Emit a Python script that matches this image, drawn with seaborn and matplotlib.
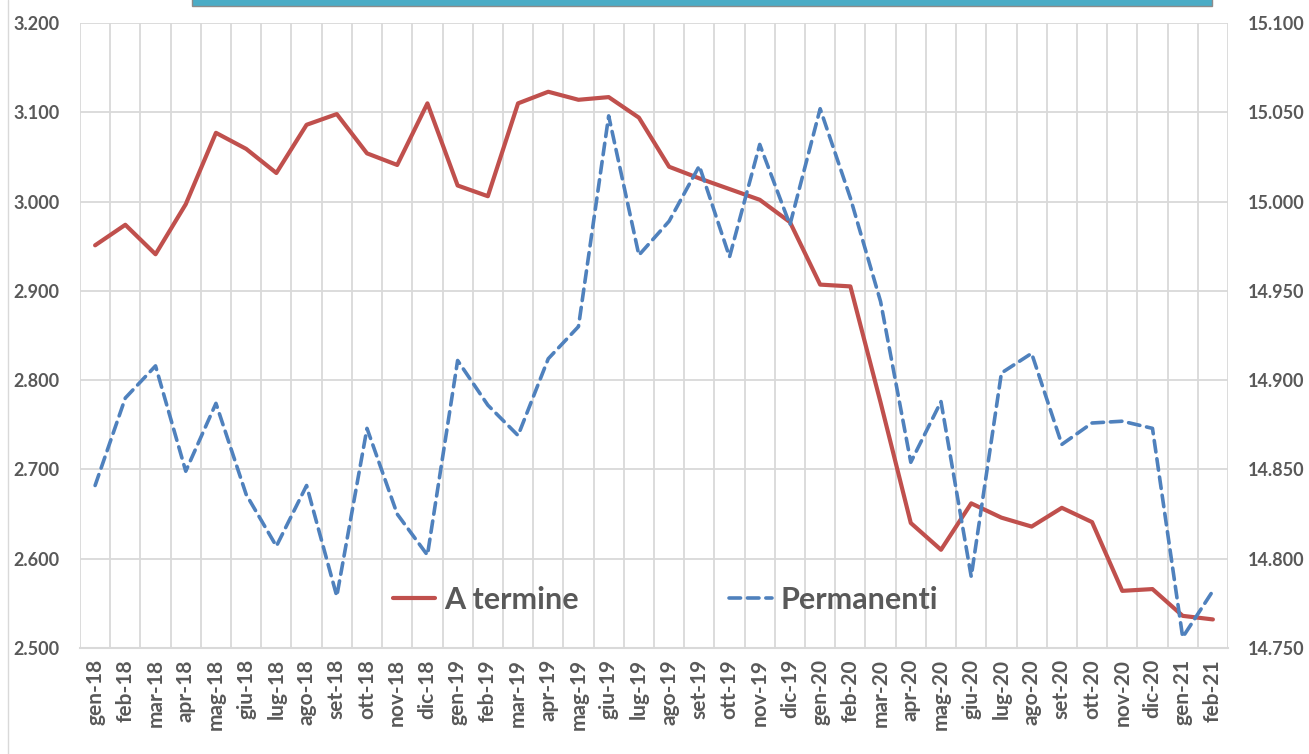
import pandas as pd
import matplotlib.pyplot as plt
import seaborn as sns
from matplotlib.ticker import FuncFormatter, FixedLocator
from matplotlib.lines import Line2D
from matplotlib.patches import Rectangle

# month labels
mesi = ['gen-18', 'feb-18', 'mar-18', 'apr-18', 'mag-18', 'giu-18', 'lug-18', 'ago-18', 'set-18', 'ott-18', 'nov-18', 'dic-18',
        'gen-19', 'feb-19', 'mar-19', 'apr-19', 'mag-19', 'giu-19', 'lug-19', 'ago-19', 'set-19', 'ott-19', 'nov-19', 'dic-19',
        'gen-20', 'feb-20', 'mar-20', 'apr-20', 'mag-20', 'giu-20', 'lug-20', 'ago-20', 'set-20', 'ott-20', 'nov-20', 'dic-20',
        'gen-21', 'feb-21']

# A termine (left axis, thousands)
a_termine = [2951, 2974, 2941, 2997, 3077, 3059, 3032, 3086, 3098, 3054, 3041, 3110,
             3018, 3006, 3110, 3123, 3114, 3117, 3094, 3039, 3026, 3014, 3002, 2977,
             2907, 2905, 2775, 2640, 2610, 2662, 2646, 2636, 2657, 2641, 2564, 2566,
             2536, 2532]

# Permanenti (right axis, thousands)
permanenti = [14841, 14890, 14908, 14849, 14887, 14836, 14807, 14841, 14779, 14873, 14825, 14802,
              14911, 14886, 14869, 14912, 14930, 15048, 14970, 14989, 15020, 14969, 15032, 14987,
              15052, 15002, 14944, 14854, 14888, 14790, 14904, 14915, 14864, 14876, 14877, 14873,
              14756, 14782]

df = pd.DataFrame({'pos': range(len(mesi)), 'mese': mesi,
                   'A termine': a_termine, 'Permanenti': permanenti})

sns.set_style('white')
plt.rcParams['font.family'] = ['Lato', 'DejaVu Sans']

RED = '#C0504D'
BLUE = '#4F81BD'
TXT = '#595959'
GRID = '#D9D9D9'

fig = plt.figure(figsize=(13.09, 7.54), dpi=100)
ax = fig.add_axes([80 / 1309, 1 - 648 / 754, 1148 / 1309, 625 / 754])
ax2 = ax.twinx()

sns.lineplot(data=df, x='pos', y='A termine', ax=ax, color=RED, linewidth=3.0, label='A termine', legend=False)
sns.lineplot(data=df, x='pos', y='Permanenti', ax=ax2, color=BLUE, linewidth=2.6, label='Permanenti', legend=False)
ax2.lines[0].set_dashes((3.2, 1.9))
ax2.lines[0].set_dash_capstyle('round')

ax.set_xlim(-0.5, len(mesi) - 0.5)
ax.set_ylim(2500, 3200)
ax2.set_ylim(14750, 15100)
ax.set_yticks(range(2500, 3201, 100))
ax2.set_yticks(range(14750, 15101, 50))

fmt = FuncFormatter(lambda v, p: f'{int(v):,}'.replace(',', '.'))
ax.yaxis.set_major_formatter(fmt)
ax2.yaxis.set_major_formatter(fmt)

ax.set_xticks(range(len(mesi)))
ax.set_xticklabels(mesi, rotation=90, fontsize=15, fontweight='bold', color=TXT)
ax.xaxis.set_minor_locator(FixedLocator([i - 0.5 for i in range(len(mesi) + 1)]))
ax.tick_params(axis='x', which='both', length=0, pad=8)
ax.tick_params(axis='y', length=0, pad=14.5, labelsize=13, labelcolor=TXT)
ax2.tick_params(axis='y', length=0, pad=14.5, labelsize=13, labelcolor=TXT)
for lab in ax.get_yticklabels() + ax2.get_yticklabels():
    lab.set_fontweight('bold')

ax.grid(which='major', axis='y', color=GRID, linewidth=1.3)
ax.grid(which='minor', axis='x', color=GRID, linewidth=1.3)
ax.set_axisbelow(True)
ax.set_xlabel('')
ax.set_ylabel('')
ax2.set_ylabel('')

for a in (ax, ax2):
    for s in a.spines.values():
        s.set_visible(False)
ax.spines['bottom'].set_visible(True)
ax.spines['bottom'].set_color(GRID)
ax.spines['bottom'].set_linewidth(1.5)

handles = [ax.lines[0], ax2.lines[0]]
leg = ax2.legend(handles, ['A termine', 'Permanenti'], ncol=2, loc='center',
                 bbox_to_anchor=(0.51, 0.077), frameon=False,
                 prop={'size': 22, 'weight': 'bold'}, labelcolor=TXT,
                 handlelength=1.4, handletextpad=0.3, columnspacing=4.9)

# cut-off title box at the top and chart frame line on the left
fig.patches.append(Rectangle((192 / 1309, 1 - 6 / 754), 1020 / 1309, 8 / 754,
                             transform=fig.transFigure, facecolor='#4BACC6',
                             edgecolor='#8C8C8C', linewidth=1.0))
fig.lines.append(Line2D([8 / 1309, 8 / 1309], [0, 1], transform=fig.transFigure,
                        color=GRID, linewidth=1.0))

plt.savefig('out.png', dpi=100)
plt.close()
